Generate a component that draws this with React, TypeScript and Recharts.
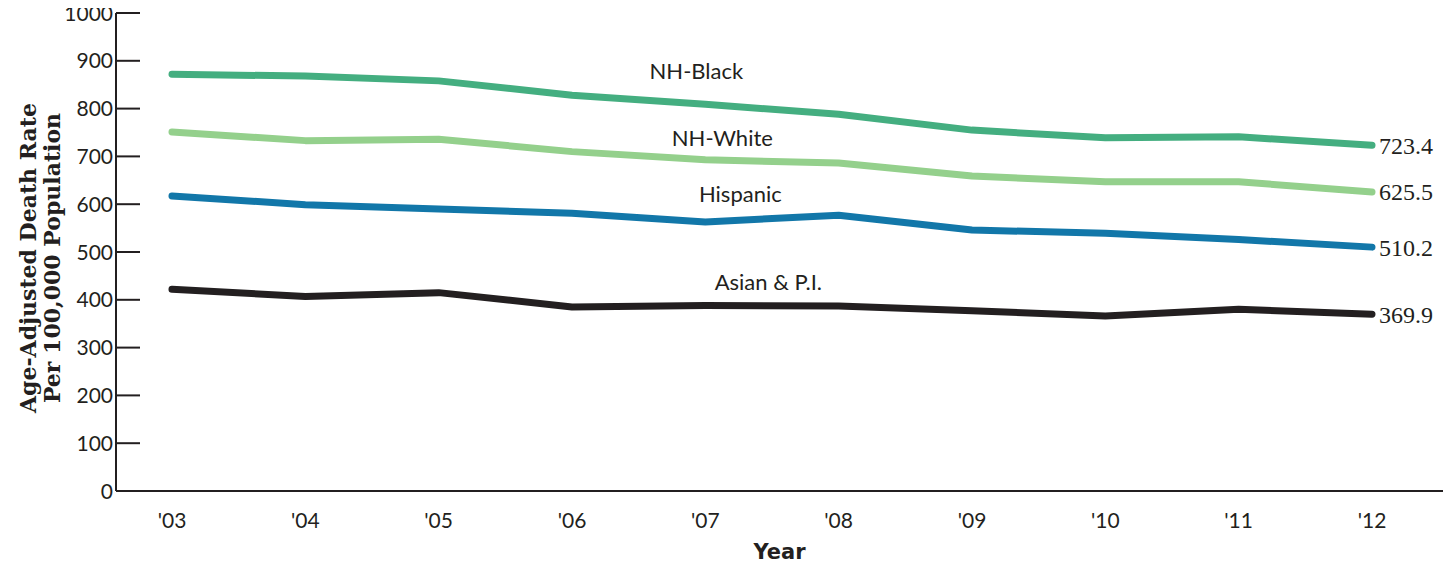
import React from 'react';
import { Label, Line, LineChart, XAxis, YAxis } from 'recharts';

const years = ["'03", "'04", "'05", "'06", "'07", "'08", "'09", "'10", "'11", "'12"];
const nhBlack = [872, 868, 858, 828, 809, 788, 755, 739, 741, 723.4];
const nhWhite = [751, 733, 736, 710, 693, 686, 659, 647, 647, 625.5];
const hispanic = [617, 599, 590, 581, 563, 577, 546, 539, 526, 510.2];
const asianPI = [422, 407, 415, 385, 388, 387, 377, 366, 380, 369.9];
const yTicks = [0, 100, 200, 300, 400, 500, 600, 700, 800, 900, 1000];

const data = years.map((year, i) => ({
  year,
  black: nhBlack[i],
  white: nhWhite[i],
  hispanic: hispanic[i],
  asian: asianPI[i],
}));

const INK = '#231f20';
const SANS = 'Lato, "Open Sans", sans-serif';

// name label sits near the '07 point, offset per series
const series = [
  { key: 'black', name: 'NH-Black', color: '#44ae80', dx: -9, dy: -25 },
  { key: 'white', name: 'NH-White', color: '#94d08c', dx: 17, dy: -14 },
  { key: 'hispanic', name: 'Hispanic', color: '#1277a9', dx: 35, dy: -20 },
  { key: 'asian', name: 'Asian & P.I.', color: INK, dx: 63, dy: -16 },
];
const NAME_INDEX = 4;

const makeLabel = (s: any) => (props: any) => {
  const { x, y, index, value } = props;
  if (index === NAME_INDEX) {
    return (
      <text x={x + s.dx} y={y + s.dy} textAnchor="middle" fontFamily={SANS} fontSize={22} fill={INK}>
        {s.name}
      </text>
    );
  }
  if (index === years.length - 1) {
    return (
      <text x={x + 7} y={y} dy="0.35em" fontFamily='"Liberation Serif", serif' fontSize={24} fill={INK}>
        {Number(value).toFixed(1)}
      </text>
    );
  }
  return null;
};

const YTick = ({ x, y, payload }: any) => (
  <g>
    <line x1={x} y1={y} x2={x + 24} y2={y} stroke={INK} strokeWidth={2} />
    <text x={x - 3} y={y} dy="0.36em" textAnchor="end" fontFamily={SANS} fontSize={21} fill={INK}>
      {payload.value}
    </text>
  </g>
);

const YTitle = ({ viewBox }: any) => {
  const cy = viewBox.y + viewBox.height / 2 + 6;
  const font = { fontFamily: '"DejaVu Serif", serif', fontWeight: 700, fontSize: 22, fill: INK };
  return (
    <g>
      <text transform={`translate(${viewBox.x + 36},${cy}) rotate(-90)`} textAnchor="middle" {...font}>
        Age-Adjusted Death Rate
      </text>
      <text transform={`translate(${viewBox.x + 60},${cy}) rotate(-90)`} textAnchor="middle" {...font}>
        Per 100,000 Population
      </text>
    </g>
  );
};

const App = () => {
  return (
    <div style={{ margin: '-8px 0 0 -8px' }}>
      <LineChart width={1455} height={565} data={data} margin={{ top: 13, right: 12, left: 0, bottom: 0 }}>
        <XAxis
          dataKey="year"
          height={74}
          padding={{ left: 56, right: 71 }}
          axisLine={{ stroke: INK, strokeWidth: 2 }}
          tickLine={false}
          tickSize={0}
          tickMargin={22}
          tick={{ fontFamily: SANS, fontSize: 21, fill: INK }}
        >
          <Label
            value="Year"
            position="insideBottom"
            offset={6}
            style={{ fontFamily: '"DejaVu Sans", sans-serif', fontWeight: 700, fontSize: 21, fill: INK }}
          />
        </XAxis>
        <XAxis xAxisId="top" dataKey="year" orientation="top" height={0} tick={false} tickLine={false} axisLine={{ stroke: INK, strokeWidth: 2 }} />
        <YAxis
          width={116}
          domain={[0, 1000]}
          ticks={yTicks}
          interval={0}
          axisLine={{ stroke: INK, strokeWidth: 2 }}
          tickLine={false}
          tickSize={0}
          tickMargin={0}
          tick={<YTick />}
          label={<YTitle />}
        />
        <YAxis yAxisId="right" orientation="right" width={0} domain={[0, 1000]} tick={false} tickLine={false} axisLine={{ stroke: INK, strokeWidth: 2 }} />
        {series.map((s) => (
          <Line
            key={s.key}
            type="linear"
            dataKey={s.key}
            stroke={s.color}
            strokeWidth={7}
            strokeLinecap="round"
            strokeLinejoin="round"
            dot={false}
            activeDot={false}
            isAnimationActive={false}
            label={makeLabel(s)}
          />
        ))}
      </LineChart>
    </div>
  );
};

export default App;
